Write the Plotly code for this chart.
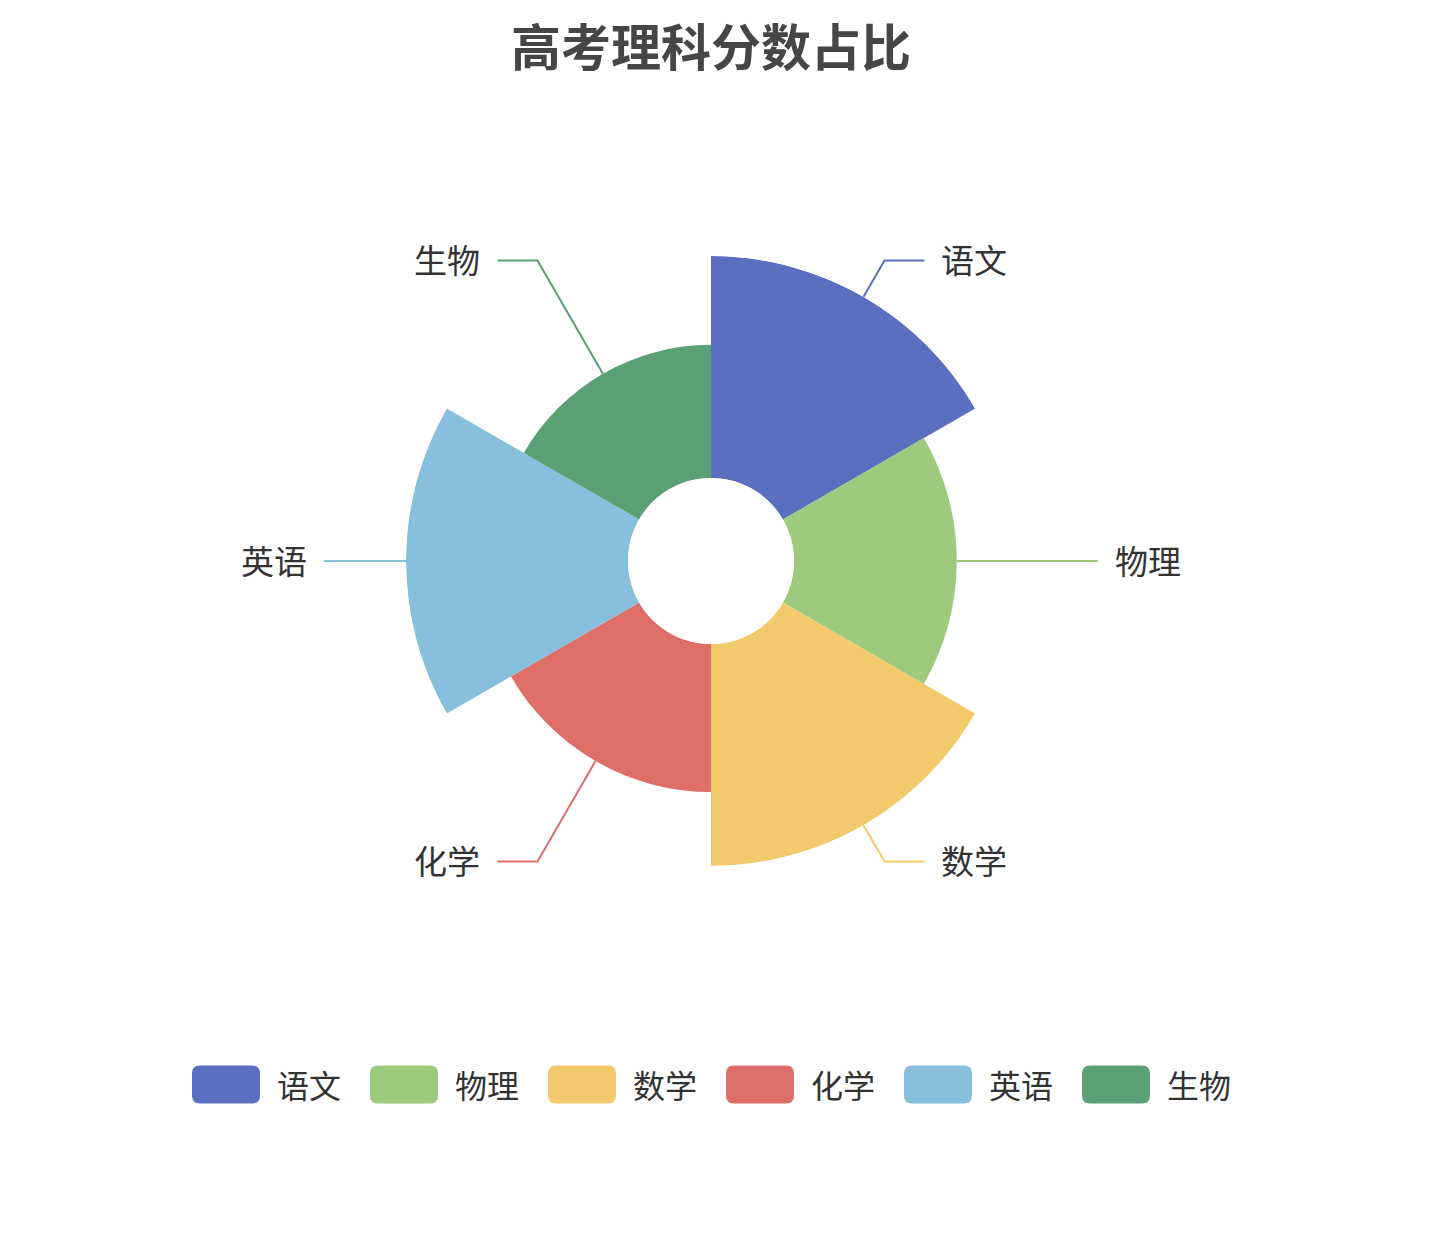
import math

import plotly.graph_objects as go

# data
subjects = ["语文", "物理", "数学", "化学", "英语", "生物"]
scores = [150, 110, 150, 100, 150, 90]
colors = ["#5a6fc0", "#9dca7c", "#f2ca6b", "#dd6e68", "#87bfdc", "#5b9f74"]
title_text = "高考理科分数占比"

# layout constants (pixels)
W, H = 1440, 1254
CX, CY = 711, 561
R_OUT, R_IN = 305, 83
LINE1, LINE2, TEXT_GAP = 42, 40, 15
FONT = "Noto Sans CJK SC, Noto Sans, sans-serif"


def px_x(x):
    return x / W


def px_y(y):
    return (H - y) / H


n = len(subjects)
step = 360 / n
thetas = [i * step + step / 2 for i in range(n)]
vmax = max(scores)

fig = go.Figure()
fig.add_trace(
    go.Barpolar(
        r=scores,
        theta=thetas,
        width=[step] * n,
        marker=dict(color=colors, line=dict(width=0)),
        customdata=subjects,
        hovertemplate="%{customdata}: %{r}<extra></extra>",
        showlegend=False,
    )
)

shapes = []
annotations = []

# leader lines + outer labels
for name, val, col, th in zip(subjects, scores, colors, thetas):
    a = math.radians(th)
    dx, dy = math.sin(a), -math.cos(a)
    r_edge = R_IN + (R_OUT - R_IN) * val / vmax
    x0, y0 = CX + r_edge * dx, CY + r_edge * dy
    x1, y1 = CX + (R_OUT + LINE1) * dx, CY + (R_OUT + LINE1) * dy
    side = 1 if dx > 1e-6 else -1
    x2 = x1 + side * LINE2
    path = "M {},{} L {},{} L {},{}".format(
        px_x(x0), px_y(y0), px_x(x1), px_y(y1), px_x(x2), px_y(y1)
    )
    shapes.append(dict(type="path", xref="paper", yref="paper", path=path,
                       line=dict(color=col, width=2)))
    annotations.append(dict(
        x=px_x(x2 + side * TEXT_GAP), y=px_y(y1 - 1.5), xref="paper", yref="paper",
        text=name, showarrow=False,
        xanchor="left" if side > 0 else "right", yanchor="middle",
        font=dict(family=FONT, size=33, color="#333333"),
    ))

# custom legend with rounded icons
ICON_W, ICON_H, ICON_R = 68, 38, 8
TEXT_W, ICON_TEXT_GAP, ITEM_GAP = 65, 15, 30
LEG_Y = 1084.5
item_w = ICON_W + ICON_TEXT_GAP + TEXT_W
total_w = n * item_w + (n - 1) * ITEM_GAP
lx = CX - total_w / 2
for name, col in zip(subjects, colors):
    xa, xb = lx, lx + ICON_W
    ya, yb = LEG_Y - ICON_H / 2, LEG_Y + ICON_H / 2
    rx = ICON_R
    pts = [
        ("M", xa + rx, ya), ("L", xb - rx, ya), ("Q", xb, ya, xb, ya + rx),
        ("L", xb, yb - rx), ("Q", xb, yb, xb - rx, yb), ("L", xa + rx, yb),
        ("Q", xa, yb, xa, yb - rx), ("L", xa, ya + rx), ("Q", xa, ya, xa + rx, ya),
    ]
    parts = []
    for p in pts:
        cmd, coords = p[0], p[1:]
        xy = []
        for i in range(0, len(coords), 2):
            xy.append("{},{}".format(px_x(coords[i]), px_y(coords[i + 1])))
        parts.append(cmd + " " + " ".join(xy))
    shapes.append(dict(type="path", xref="paper", yref="paper",
                       path=" ".join(parts) + " Z",
                       fillcolor=col, line=dict(width=0)))
    annotations.append(dict(
        x=px_x(xb + ICON_TEXT_GAP), y=px_y(LEG_Y - 1), xref="paper", yref="paper",
        text=name, showarrow=False, xanchor="left", yanchor="middle",
        font=dict(family=FONT, size=32, color="#333333"),
    ))
    lx += item_w + ITEM_GAP

# title
annotations.append(dict(
    x=px_x(CX), y=px_y(44), xref="paper", yref="paper",
    text="<b>" + title_text + "</b>", showarrow=False,
    xanchor="center", yanchor="middle",
    font=dict(family=FONT, size=50, color="#464646"),
))

fig.update_layout(
    width=W,
    height=H,
    margin=dict(l=0, r=0, t=0, b=0),
    paper_bgcolor="white",
    plot_bgcolor="white",
    showlegend=False,
    shapes=shapes,
    annotations=annotations,
    polar=dict(
        domain=dict(x=[px_x(CX - R_OUT), px_x(CX + R_OUT)],
                    y=[px_y(CY + R_OUT), px_y(CY - R_OUT)]),
        hole=R_IN / R_OUT,
        bargap=0,
        bgcolor="white",
        radialaxis=dict(range=[0, vmax], visible=False, showgrid=False),
        angularaxis=dict(rotation=90, direction="clockwise", visible=False,
                         showgrid=False, showline=False, ticks=""),
    ),
)

fig.write_html(
    "out.html",
    config={"displayModeBar": False},
    post_script="document.body.style.margin='0';",
)
